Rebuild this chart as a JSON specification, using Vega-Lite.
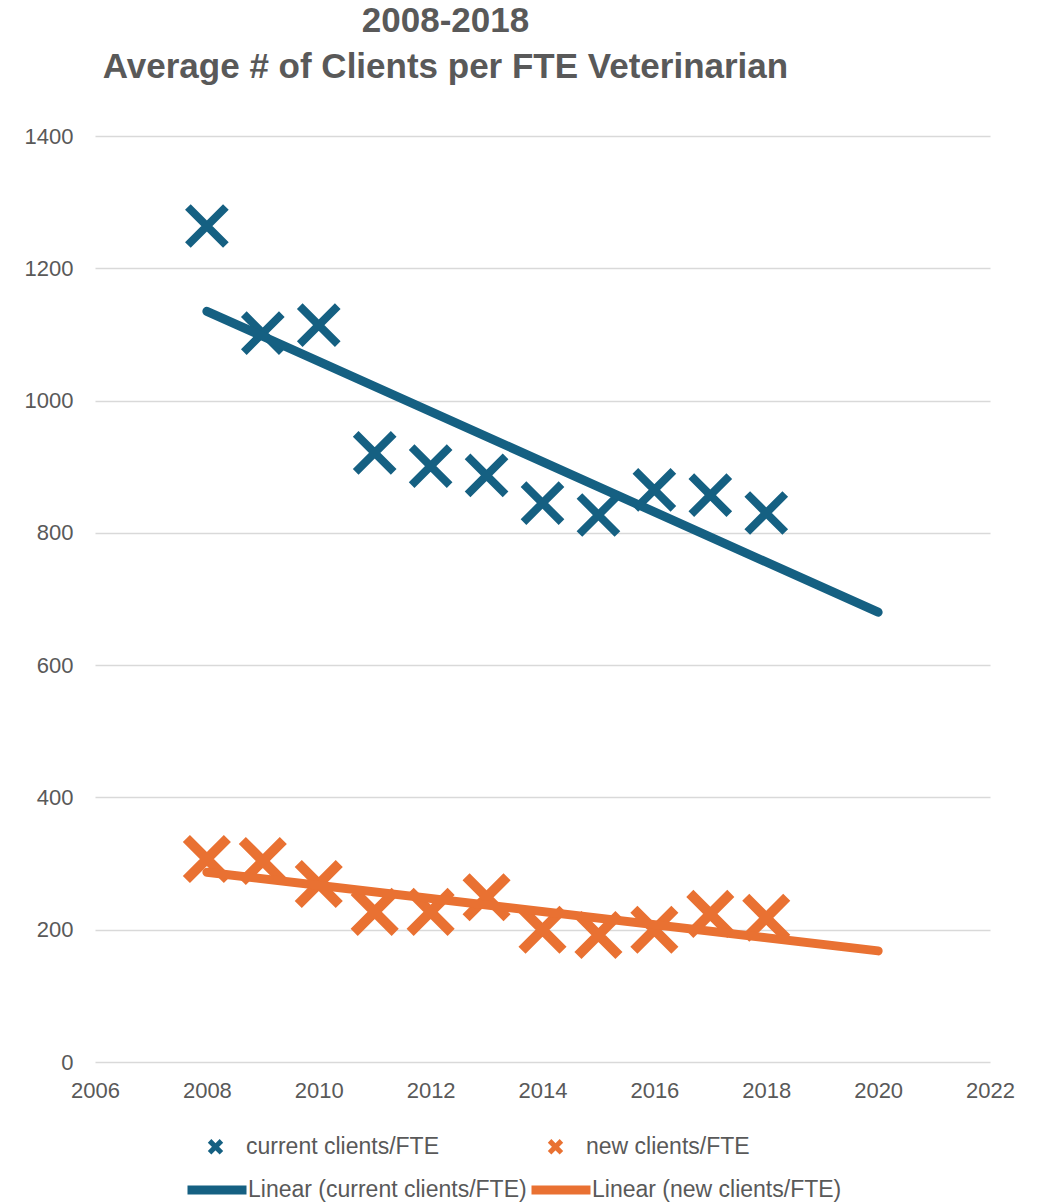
{
  "$schema": "https://vega.github.io/schema/vega-lite/v6.json",
  "autosize": {"type": "none"},
  "padding": {"left": 95, "top": 136, "right": 51, "bottom": 140},
  "width": 895,
  "height": 926,
  "background": "white",
  "config": {"view": {"stroke": null}},
  "title": {
    "text": ["2008-2018", "Average # of Clients per FTE Veterinarian"],
    "font": "Liberation Sans",
    "fontSize": 35,
    "fontWeight": "bold",
    "color": "#595959",
    "anchor": "middle",
    "dx": -97,
    "offset": 40,
    "lineHeight": 46
  },
  "datasets": {
    "pts": [
      {"year": 2008, "series": "current clients/FTE", "value": 1264},
      {"year": 2009, "series": "current clients/FTE", "value": 1102},
      {"year": 2010, "series": "current clients/FTE", "value": 1114},
      {"year": 2011, "series": "current clients/FTE", "value": 921},
      {"year": 2012, "series": "current clients/FTE", "value": 901},
      {"year": 2013, "series": "current clients/FTE", "value": 887},
      {"year": 2014, "series": "current clients/FTE", "value": 845},
      {"year": 2015, "series": "current clients/FTE", "value": 827},
      {"year": 2016, "series": "current clients/FTE", "value": 865},
      {"year": 2017, "series": "current clients/FTE", "value": 857},
      {"year": 2018, "series": "current clients/FTE", "value": 830},
      {"year": 2008, "series": "new clients/FTE", "value": 307},
      {"year": 2009, "series": "new clients/FTE", "value": 304},
      {"year": 2010, "series": "new clients/FTE", "value": 269},
      {"year": 2011, "series": "new clients/FTE", "value": 227},
      {"year": 2012, "series": "new clients/FTE", "value": 227},
      {"year": 2013, "series": "new clients/FTE", "value": 249},
      {"year": 2014, "series": "new clients/FTE", "value": 200},
      {"year": 2015, "series": "new clients/FTE", "value": 192},
      {"year": 2016, "series": "new clients/FTE", "value": 200},
      {"year": 2017, "series": "new clients/FTE", "value": 224},
      {"year": 2018, "series": "new clients/FTE", "value": 218}
    ],
    "trend": [
      {"year": 2008, "trend": "Linear (current clients/FTE)", "value": 1135},
      {"year": 2020, "trend": "Linear (current clients/FTE)", "value": 680},
      {"year": 2008, "trend": "Linear (new clients/FTE)", "value": 287},
      {"year": 2020, "trend": "Linear (new clients/FTE)", "value": 168}
    ]
  },
  "encoding": {
    "x": {
      "field": "year", "type": "quantitative",
      "scale": {"domain": [2006, 2022], "nice": false, "zero": false},
      "axis": {"values": [2006, 2008, 2010, 2012, 2014, 2016, 2018, 2020, 2022], "format": "d", "title": null, "grid": false, "domain": false, "ticks": false, "labelFlush": false, "labelBound": false, "labelOverlap": false, "labelPadding": 18, "labelFont": "Liberation Sans", "labelFontSize": 22, "labelColor": "#595959"}
    },
    "y": {
      "field": "value", "type": "quantitative",
      "scale": {"domain": [0, 1400], "nice": false},
      "axis": {"values": [0, 200, 400, 600, 800, 1000, 1200, 1400], "format": "d", "title": null, "domain": false, "ticks": false, "grid": true, "gridColor": "#d9d9d9", "gridWidth": 1.5, "labelFlush": false, "labelPadding": 22, "labelFont": "Liberation Sans", "labelFontSize": 22, "labelColor": "#595959"}
    },
    "color": {
      "field": "series", "type": "nominal",
      "scale": {"domain": ["current clients/FTE", "new clients/FTE"], "range": ["#156082", "#E97132"]},
      "legend": {"title": null, "orient": "none", "legendX": 109, "legendY": 999, "direction": "horizontal", "columns": 2, "columnPadding": 100, "symbolType": "M-1,-1L1,1M-1,1L1,-1", "symbolSize": 140, "symbolStrokeWidth": 5, "labelFont": "Liberation Sans", "labelFontSize": 23, "labelColor": "#595959", "labelOffset": 19, "labelLimit": 400}
    }
  },
  "layer": [
    {
      "data": {"name": "pts"},
      "transform": [{"filter": "datum.series === 'current clients/FTE'"}],
      "mark": {"type": "point", "filled": false, "shape": "M-1,-1L1,1M-1,1L1,-1", "strokeCap": "butt", "opacity": 1, "size": 1444, "strokeWidth": 8}
    },
    {
      "data": {"name": "pts"},
      "transform": [{"filter": "datum.series === 'new clients/FTE'"}],
      "mark": {"type": "point", "filled": false, "shape": "M-1,-1L1,1M-1,1L1,-1", "strokeCap": "butt", "opacity": 1, "size": 1681, "strokeWidth": 10}
    },
    {
      "data": {"name": "trend"},
      "mark": {"type": "line", "strokeWidth": 9, "strokeCap": "round"},
      "encoding": {
        "color": null,
        "stroke": {
          "field": "trend", "type": "nominal",
          "scale": {"domain": ["Linear (current clients/FTE)", "Linear (new clients/FTE)"], "range": ["#156082", "#E97132"]},
          "legend": {"title": null, "orient": "none", "legendX": 88, "legendY": 1020, "direction": "horizontal", "columns": 2, "columnPadding": -14, "symbolType": "stroke", "symbolSize": 3481, "symbolStrokeWidth": 9, "labelFont": "Liberation Sans", "labelFontSize": 23, "labelColor": "#595959", "labelOffset": -3, "labelLimit": 400}
        }
      }
    }
  ]
}
